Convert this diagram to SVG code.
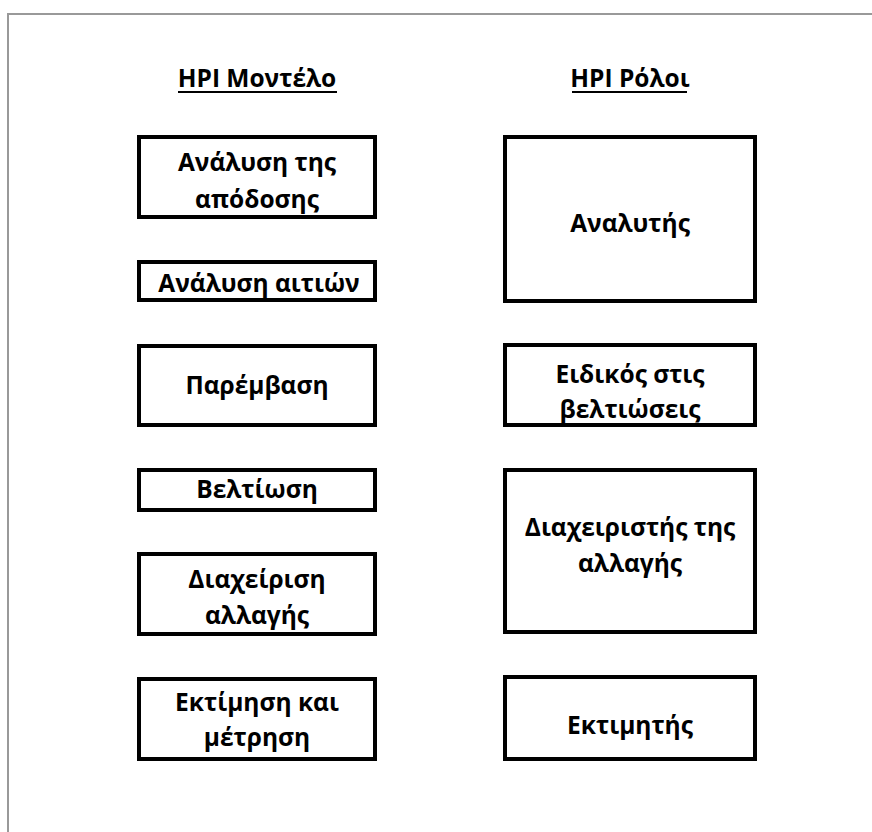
<svg xmlns="http://www.w3.org/2000/svg" width="872" height="832" viewBox="0 0 872 832">
<style>
  .frame { fill: none; stroke: #999999; stroke-width: 2; }
  .box { fill: #ffffff; stroke: #000000; stroke-width: 4; }
  .t { font-family: "Open Sans", "Noto Sans", "DejaVu Sans", sans-serif; font-weight: bold; font-size: 24.5px; fill: #000000; text-anchor: middle; }
  .h { font-family: "Open Sans", "Noto Sans", "DejaVu Sans", sans-serif; font-weight: bold; font-size: 24.5px; fill: #000000; text-anchor: middle; }
  .ul { stroke: #000000; stroke-width: 2; }
</style>
<rect width="872" height="832" fill="#ffffff"/>
<path class="frame" d="M8 840 V14 H880"/>
<g id="headings">
  <text class="h" x="257" y="87">HPI Μοντέλο</text>
  <line class="ul" x1="178" y1="92" x2="337" y2="92"/>
  <text class="h" x="630" y="87">HPI Ρόλοι</text>
  <line class="ul" x1="572" y1="92" x2="687" y2="92"/>
</g>
<g id="connectors"></g>
<g id="n-analysi-apodosis">
  <rect class="box" x="139" y="137" width="236" height="80"/>
  <text class="t" x="257" y="171">Ανάλυση της</text>
  <text class="t" x="257" y="208">απόδοσης</text>
</g>
<g id="n-analysi-aition">
  <rect class="box" x="139" y="262" width="236" height="38"/>
  <text class="t" x="259" y="292">Ανάλυση αιτιών</text>
</g>
<g id="n-paremvasi">
  <rect class="box" x="139" y="346" width="236" height="79"/>
  <text class="t" x="257" y="394">Παρέμβαση</text>
</g>
<g id="n-veltiosi">
  <rect class="box" x="139" y="470" width="236" height="40"/>
  <text class="t" x="257" y="498">Βελτίωση</text>
</g>
<g id="n-diaxeirisi">
  <rect class="box" x="139" y="554" width="236" height="80"/>
  <text class="t" x="257" y="588">Διαχείριση</text>
  <text class="t" x="257" y="624">αλλαγής</text>
</g>
<g id="n-ektimisi">
  <rect class="box" x="139" y="679" width="236" height="80"/>
  <text class="t" x="257" y="711">Εκτίμηση και</text>
  <text class="t" x="257" y="746">μέτρηση</text>
</g>
<g id="n-analytis">
  <rect class="box" x="505" y="137" width="250" height="164"/>
  <text class="t" x="630" y="232">Αναλυτής</text>
</g>
<g id="n-eidikos">
  <rect class="box" x="505" y="345" width="250" height="80"/>
  <text class="t" x="630" y="383">Ειδικός στις</text>
  <text class="t" x="630" y="418">βελτιώσεις</text>
</g>
<g id="n-diaxeiristis">
  <rect class="box" x="505" y="470" width="250" height="162"/>
  <text class="t" x="630" y="536">Διαχειριστής της</text>
  <text class="t" x="630" y="572">αλλαγής</text>
</g>
<g id="n-ektimitis">
  <rect class="box" x="505" y="677" width="250" height="82"/>
  <text class="t" x="630" y="734">Εκτιμητής</text>
</g>
</svg>
